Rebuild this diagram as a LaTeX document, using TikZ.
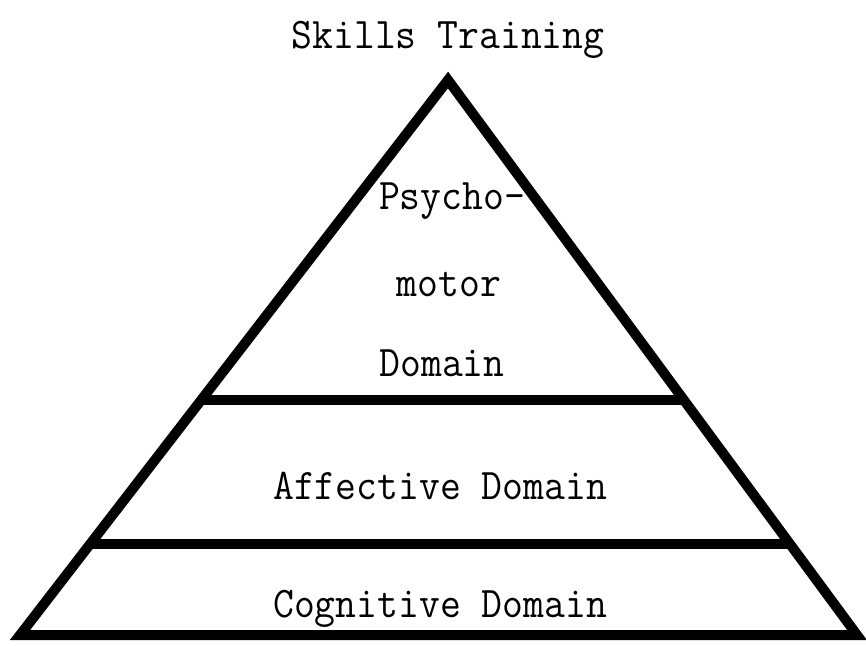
\documentclass[tikz,border=0pt]{standalone}
\usepackage{fontspec}
\usetikzlibrary{calc}
\newcommand{\tallt}[1]{\scalebox{1}[1.08]{#1}}
\begin{document}
\begin{tikzpicture}[x=1pt,y=-1pt,
  edge/.style={line width=10pt,line join=miter,black},
  band/.style={line width=10pt,black},
  lbl/.style={anchor=base,inner sep=0pt,font=\fontsize{40.5}{42}\ttfamily\addfontfeature{FakeBold=2.5}}]
\useasboundingbox (0,0) rectangle (866,645);
\fill[white] (0,0) rectangle (866,645);
\coordinate (A) at (448,80);
\coordinate (BL) at (20,635);
\coordinate (BR) at (857,635);
\coordinate (L1) at ($(A)!0.5774!(BL)$);
\coordinate (R1) at ($(A)!0.5774!(BR)$);
\coordinate (L2) at ($(A)!0.8360!(BL)$);
\coordinate (R2) at ($(A)!0.8360!(BR)$);
\draw[edge] (A) -- (BL) -- (BR) -- cycle;
\draw[band] (L1) -- (R1);
\draw[band] (L2) -- (R2);
\node[lbl] (t) at (448,48) {\tallt{Skills Training}};
\node[lbl] (p1) at (452,209) {\tallt{Psycho-}};
\node[lbl] (p2) at (449,296) {\tallt{motor}};
\node[lbl] (p3) at (442,376) {\tallt{Domain}};
\node[lbl] (af) at (440,499) {\tallt{Affective Domain}};
\node[lbl] (co) at (440,617) {\tallt{Cognitive Domain}};
\end{tikzpicture}
\end{document}
